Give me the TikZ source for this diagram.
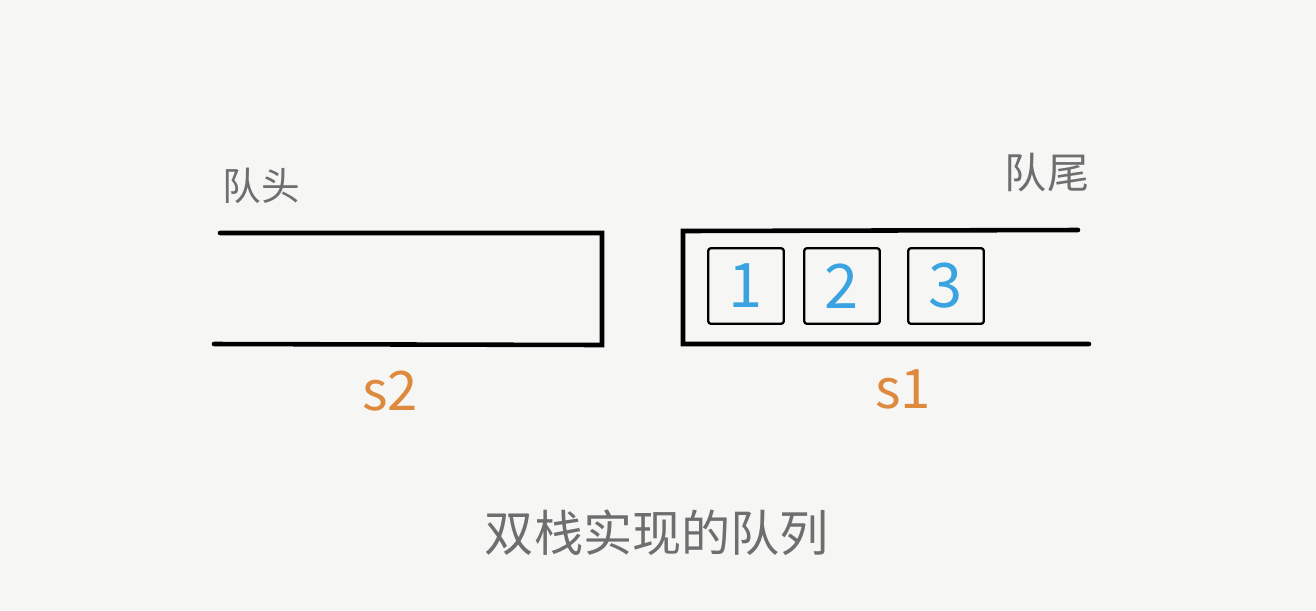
\documentclass[tikz,border=0pt]{standalone}
\usepackage{fontspec}
\setmainfont{Noto Sans CJK SC}
\definecolor{paper}{HTML}{F6F6F5}
\definecolor{numblue}{HTML}{3BA3E0}
\definecolor{stackorange}{HTML}{DE8A3E}
\definecolor{labelgray}{HTML}{6E6E6E}
\tikzset{
  wall/.style={draw, line width=2.6pt, line cap=round},
  elem/.style={draw, line width=1.3pt, rounded corners=1.5pt, minimum width=43pt, minimum height=43pt, inner sep=0pt, text=numblue, font=\fontsize{35}{38}\selectfont},
  stackname/.style={text=stackorange, font=\fontsize{31}{34}\selectfont},
  endname/.style={text=labelgray, font=\fontsize{22}{26}\selectfont}
}
\begin{document}
\begin{tikzpicture}[x=0.02cm, y=-0.02cm]
\fill[paper] (0,0) rectangle (1316,610);
\useasboundingbox (0,0) rectangle (1316,610);
% stack s2 (open on the left)
\coordinate (s2tl) at (220,233);
\coordinate (s2tr) at (602,233);
\coordinate (s2br) at (602,345);
\coordinate (s2bl) at (214,344);
\path[wall] (s2tl) -- (s2tr) -- (s2br) -- (s2bl);
% stack s1 (open on the right)
\coordinate (s1tr) at (1078,230);
\coordinate (s1tl) at (683,231);
\coordinate (s1bl) at (683,344);
\coordinate (s1br) at (1089,344);
\path[wall] (s1tr) -- (s1tl) -- (s1bl) -- (s1br);
% elements
\node[elem] (1) at (746,286) {1};
\node[elem] (2) at (842,286) {2};
\node[elem] (3) at (946,286) {3};
% labels
\node[endname] (head) at (261,186) {队头};
\node[endname, font=\fontsize{24}{28}\selectfont] (tail) at (1047,173) {队尾};
\node[stackname] (s2) at (390,391) {s2};
\node[stackname] (s1) at (903,389) {s1};
\node[text=labelgray, font=\fontsize{28}{32}\selectfont] (caption) at (657,533) {双栈实现的队列};
\end{tikzpicture}
\end{document}
